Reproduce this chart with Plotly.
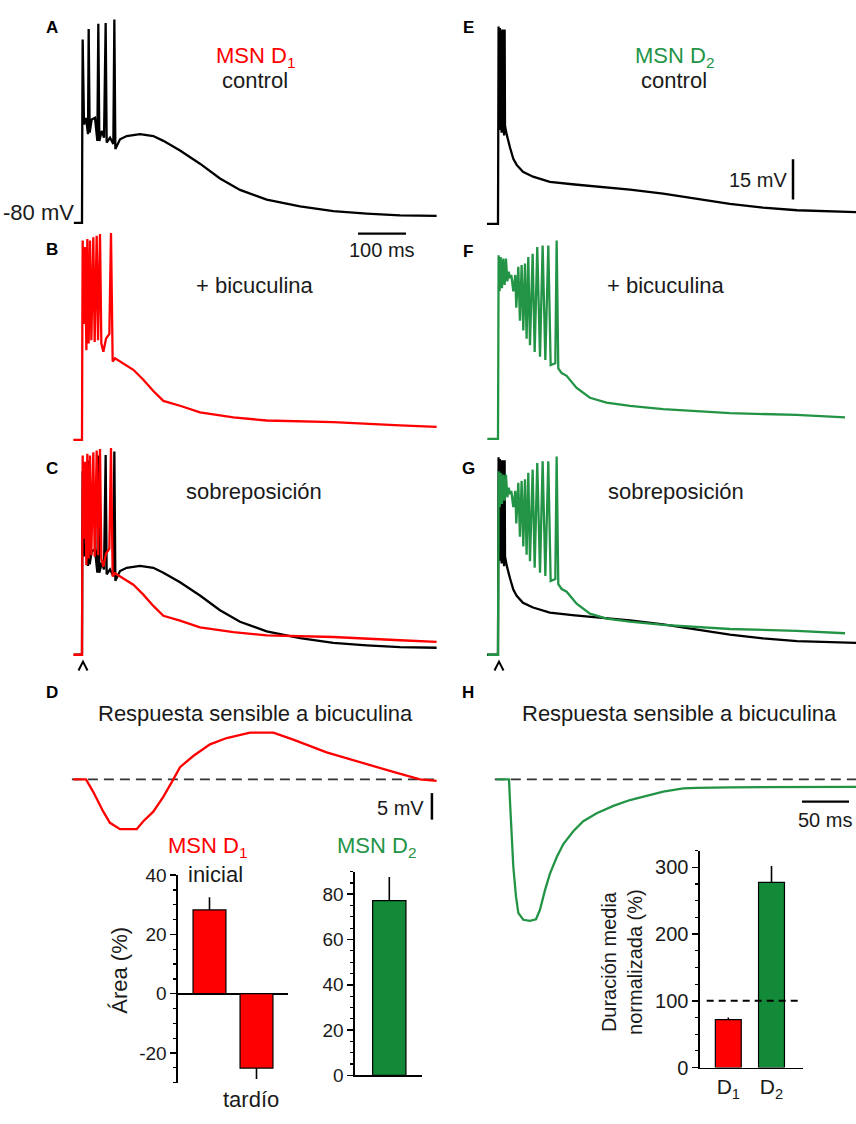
import plotly.graph_objects as go

W, H = 856, 1124
FONT = "Arial, Liberation Sans, Helvetica, sans-serif"
TXT = "#1a1a1a"
RED = "#ff0000"
GREEN = "#239446"
GREEN_BAR = "#138a37"

# ---------------- data (time in ms, membrane potential in mV) ----------------
# MSN D1, control (panel A; black trace of panel C)
d1_ctrl_t = [-17, 0, 0.7, 1.4, 4.2, 8.4, 12.5, 13.9, 16, 20.2, 27.1, 32, 34, 36.1, 41, 45.9, 49.3,
             51.4, 58.4, 65.3, 67.4, 69.5, 79.2, 93.1, 120.9, 148.6, 169.5, 204.2, 245.8, 287.5,
             329.2, 384.8, 454.2, 523.6, 593, 662.5, 738.8]
d1_ctrl_v = [-80, -80, -37.2, -11.6, -43.3, -40.8, -46.9, -7.7, -46.3, -41.4, -40.8, -49.4, -5.7,
             -49.4, -45.7, -48.2, -5.5, -50, -48.2, -50.6, -4.2, -52.4, -48.8, -47.6, -46.9, -47.6,
             -49.4, -53, -57.9, -63.4, -67.7, -71.3, -73.8, -75.6, -76.5, -77.2, -77.4]

# MSN D1, + bicuculline (panel B; red trace of panel C)
d1_bic_t = [-18, 0, 0.7, 1.4, 3.5, 6.3, 9.1, 11.1, 13.9, 16.7, 19.5, 23.6, 26.4, 30.6, 33.4, 37.5,
            40.3, 44.5, 50, 57, 60.4, 63.9, 68.8, 79.2, 93.1, 107, 127.8, 148.6, 169.5, 204.2,
            245.8, 315.3, 384.8, 523.6, 662.5, 738.8]
d1_bic_v = [-80, -80, -36.8, -5.7, -36.8, -8.1, -46.6, -5.1, -44.1, -5.7, -42.9, -4.5, -43.5, -3.9,
            -42.9, -3.3, -44.1, -47.2, -42.3, -40.5, -2.9, -50.8, -49.6, -50.8, -52.1, -53.9, -57.6,
            -61.8, -65.5, -67.3, -69.8, -71.6, -72.8, -73.4, -74.6, -75.2]

# MSN D1, bicuculline-sensitive response (panel D)
d1_diff_t = [-13.5, 0, 7.8, 18.4, 25.5, 36.2, 53.9, 61, 71.6, 82.2, 92.9, 100, 114.1, 131.9, 149.7,
             174.5, 199.3, 220.5, 256, 291.5, 326.9, 355.3, 373]
d1_diff_v = [0, 0, -2.4, -6.1, -8.2, -9.4, -9.4, -7.9, -6.1, -3.3, 0, 2.3, 4.4, 6.6, 7.8, 8.8, 8.8,
             7.5, 5.1, 3.2, 1.4, 0, -0.3]

# MSN D2, control (panel E; black trace of panel G)
d2_ctrl_t = [-23, 0, 0.5, 1.2, 2.5, 3.8, 5.0, 6.2, 7.5, 8.8, 10.0, 11.4, 12.6, 13.8, 14.6, 18.1, 25,
             31.9, 38.9, 52, 73, 108, 160, 212, 275, 344, 415, 483, 552, 623, 746]
d2_ctrl_v = [-80, -80, -50, -6.4, -44, -7, -45, -8, -46, -7.5, -46, -7.5, -47, -7.5, -43.4, -46.7,
             -51.5, -55.7, -58, -60.6, -62.4, -64.3, -65.3, -66.1, -67.2, -68.7, -70.6, -72.5,
             -73.9, -74.9, -75.6]

# MSN D2, + bicuculline (panel F; green trace of panel G)
d2_bic_t = [-22.3, 0, 0.6, 1.3, 3.4, 5.5, 8.3, 11, 13.8, 16.6, 19.4, 22.2, 25, 27.7, 31.9, 36, 38.1,
            42.3, 45.7, 49.2, 52.7, 56.2, 59.6, 63.1, 66.6, 72.2, 76.4, 81.8, 87.5, 93, 98.6, 104.8,
            109.7, 119.4, 122.2, 125.6, 132.6, 143, 163.8, 191.6, 226.1, 275, 344, 483, 622, 723]
d2_bic_v = [-80, -80, -49.4, -11.6, -25, -12.2, -23.8, -12.8, -22.6, -12.8, -21.3, -17.7, -20.1,
            -18.9, -25, -18.9, -31.1, -15.9, -36, -15.2, -39.6, -14.6, -42.7, -12.2, -45.1, -11,
            -47.6, -8.5, -49.4, -7.9, -50.6, -7.9, -52.5, -51.8, -6.1, -53.7, -55.5, -56.5, -61,
            -64.7, -66.5, -67.7, -68.9, -70.4, -71.1, -72]

# MSN D2, bicuculline-sensitive response (panel H)
d2_diff_t = [-13.1, 0, 1.1, 2.9, 4.6, 7.4, 9.9, 15.2, 22.3, 28.7, 33, 38.3, 43.6, 50.7, 57.8, 68.4,
             79, 93.3, 111, 128.7, 146.5, 164.1, 185.4, 199.7, 235, 270.5, 306, 369.9]
d2_diff_v = [0, 0, -4.3, -10.4, -16.5, -22.1, -25.2, -26.5, -26.7, -26.4, -24.6, -20.9, -17.8,
             -14.7, -12.2, -9.8, -7.9, -6.4, -5.0, -3.9, -3.1, -2.3, -1.7, -1.6, -1.5, -1.5, -1.5,
             -1.4]

# Bar charts
area_d1_labels = ["inicial", "tardío"]
area_d1_values = [28.3, -25.1]
area_d1_err_up = [4.3, 0]
area_d1_err_down = [0, 3.7]

area_d2_labels = ["D2"]
area_d2_values = [77.2]
area_d2_err = [10.4]

dur_labels = ["D<sub>1</sub>", "D<sub>2</sub>"]
dur_values = [71.7, 277.5]
dur_err = [3.3, 24.5]
dur_reference = 100

area_d1_ticks = [-20, 0, 20, 40]
area_d2_ticks = [0, 20, 40, 60, 80]
dur_ticks = [0, 100, 200, 300]

# scale bars
SB_TIME_LONG = 100   # ms
SB_V_LARGE = 15      # mV
SB_V_SMALL = 5       # mV
SB_TIME_SHORT = 50   # ms

# ---------------- figure ----------------
fig = go.Figure()
layout = {}


def sfx(i):
    return "" if i == 1 else str(i)


def trace_axes(i, box, anchor_px, anchor_val, ppx, ppy):
    x0, x1, y0, y1 = box
    axp, ayp = anchor_px
    tv, vv = anchor_val
    xr = [tv + (x0 - axp) / ppx, tv + (x1 - axp) / ppx]
    yr = [vv - (y1 - ayp) / ppy, vv + (ayp - y0) / ppy]
    s = sfx(i)
    layout["xaxis" + s] = dict(domain=[x0 / W, x1 / W], range=xr, visible=False,
                               anchor="y" + s, fixedrange=True)
    layout["yaxis" + s] = dict(domain=[1 - y1 / H, 1 - y0 / H], range=yr, visible=False,
                               anchor="x" + s, fixedrange=True)


def line(i, x, y, color, width=2.0, dash=None):
    s = sfx(i)
    fig.add_trace(go.Scatter(x=x, y=y, mode="lines",
                             line=dict(color=color, width=width, dash=dash, shape="linear"),
                             xaxis="x" + s, yaxis="y" + s, hoverinfo="skip", showlegend=False))


PPMS = 0.48          # px per ms (A-C, E-G)
PPMV = 41 / 15       # px per mV (A-C, E-G)
PPMS2 = 0.94         # px per ms (D, H)
PPMV2 = 5.4          # px per mV (D, H)

trace_axes(1, (60, 440, 0, 235), (82, 217), (0, -80), PPMS, PPMV)      # A
trace_axes(2, (60, 440, 225, 455), (82, 438), (0, -80), PPMS, PPMV)    # B
trace_axes(3, (60, 440, 440, 685), (82, 657), (0, -80), PPMS, PPMV)    # C
trace_axes(4, (60, 440, 725, 850), (86, 784), (0, 0), PPMS2, PPMV2)    # D
trace_axes(5, (470, 856, 0, 235), (498, 218), (0, -80), PPMS, PPMV)    # E
trace_axes(6, (470, 856, 225, 455), (498, 437), (0, -80), PPMS, PPMV)  # F
trace_axes(7, (470, 856, 440, 685), (498, 657), (0, -80), PPMS, PPMV)  # G
trace_axes(8, (470, 856, 725, 950), (509, 784), (0, 0), PPMS2, PPMV2)  # H

LW = 2.3
line(1, d1_ctrl_t, d1_ctrl_v, "black", LW)
line(2, d1_bic_t, d1_bic_v, RED, LW)
line(3, d1_ctrl_t, d1_ctrl_v, "black", LW)
line(3, d1_bic_t, d1_bic_v, RED, LW)
line(5, d2_ctrl_t, d2_ctrl_v, "black", LW)
line(6, d2_bic_t, d2_bic_v, GREEN, LW)
line(7, d2_ctrl_t, d2_ctrl_v, "black", LW)
line(7, d2_bic_t, d2_bic_v, GREEN, LW)

# dashed zero lines for D and H
line(4, [d1_diff_t[0] - 1.5, d1_diff_t[-1] + 1.5], [0, 0], "#333333", 1.6, "10px,6px")
line(8, [d2_diff_t[0] - 2, 380], [0, 0], "#333333", 1.6, "10px,6px")
line(4, d1_diff_t, d1_diff_v, RED, LW)
line(8, d2_diff_t, d2_diff_v, GREEN, LW)

# scale bars
sb_a_t0, sb_a_v = 575, -84.0
line(1, [sb_a_t0, sb_a_t0 + SB_TIME_LONG], [sb_a_v, sb_a_v], "black", 2.2)
sb_e_t, sb_e_v0 = 614.6, -70.85
line(5, [sb_e_t, sb_e_t], [sb_e_v0, sb_e_v0 + SB_V_LARGE], "black", 2.5)
sb_d_t, sb_d_v0 = 368, -7.6
line(4, [sb_d_t, sb_d_t], [sb_d_v0, sb_d_v0 + SB_V_SMALL], "black", 2.5)
sb_h_t0, sb_h_v = 311.7, -4.2
line(8, [sb_h_t0, sb_h_t0 + SB_TIME_SHORT], [sb_h_v, sb_h_v], "black", 2.2)

# ---------------- bar charts ----------------
AX_COLOR = "black"


def bar_axes(i, box, xr, yr, ticks, minor, show_xline, tickfont=19, ticktext=None, tickvals=None):
    x0, x1, y0, y1 = box
    s = sfx(i)
    xa = dict(domain=[x0 / W, x1 / W], range=xr, anchor="y" + s, showgrid=False,
              zeroline=False, showline=show_xline, linecolor=AX_COLOR, linewidth=1.6,
              ticks="", fixedrange=True)
    if ticktext is not None:
        xa.update(tickvals=tickvals, ticktext=ticktext, showticklabels=True,
                  tickfont=dict(family=FONT, size=21, color=TXT))
    else:
        xa.update(showticklabels=False)
    layout["xaxis" + s] = xa
    layout["yaxis" + s] = dict(domain=[1 - y1 / H, 1 - y0 / H], range=yr, anchor="x" + s,
                               showgrid=False, zeroline=(yr[0] < 0), zerolinecolor=AX_COLOR,
                               zerolinewidth=1.6, showline=True, linecolor=AX_COLOR,
                               linewidth=1.6, ticks="outside", ticklen=6, tickwidth=1.5,
                               tickcolor=AX_COLOR, tickvals=ticks,
                               ticktext=[str(v) for v in ticks],
                               tickfont=dict(family=FONT, size=tickfont, color=TXT),
                               minor=dict(dtick=minor, ticks="outside", ticklen=3.5,
                                          tickwidth=1.2, tickcolor=AX_COLOR, showgrid=False),
                               fixedrange=True)


# Área D1
pos1 = list(range(len(area_d1_labels)))
bar_axes(9, (178, 288, 881.7, 1093), [-0.670, 1.670], [-30, 40], area_d1_ticks, 5, False)
fig.add_trace(go.Bar(x=pos1, y=area_d1_values, width=0.70,
                     marker=dict(color=RED, line=dict(color="black", width=1.2)),
                     error_y=dict(type="data", symmetric=False, array=area_d1_err_up,
                                  arrayminus=area_d1_err_down, color="black", thickness=1.6,
                                  width=0),
                     xaxis="x9", yaxis="y9", hoverinfo="skip", showlegend=False))

# Área D2
pos2 = list(range(len(area_d2_labels)))
bar_axes(10, (355, 421.7, 878, 1085.7), [-1.03, 0.973], [0, 90], area_d2_ticks, 5, True)
fig.add_trace(go.Bar(x=pos2, y=area_d2_values, width=1.0,
                     marker=dict(color=GREEN_BAR, line=dict(color="black", width=1.2)),
                     error_y=dict(type="data", symmetric=False, array=area_d2_err,
                                  arrayminus=[0] * len(area_d2_err), color="black",
                                  thickness=1.6, width=0),
                     xaxis="x10", yaxis="y10", hoverinfo="skip", showlegend=False))

# Duración media normalizada
pos3 = list(range(len(dur_labels)))
bar_axes(11, (700, 802.7, 856.7, 1077.7), [-0.655, 1.722], [0, 325], dur_ticks, 25, True,
         tickfont=20, ticktext=dur_labels, tickvals=pos3)
fig.add_trace(go.Bar(x=pos3, y=dur_values, width=0.60,
                     marker=dict(color=[RED, GREEN_BAR], line=dict(color="black", width=1.2)),
                     error_y=dict(type="data", symmetric=False, array=dur_err,
                                  arrayminus=[0] * len(dur_err), color="black",
                                  thickness=1.6, width=0),
                     xaxis="x11", yaxis="y11", hoverinfo="skip", showlegend=False))
fig.add_trace(go.Scatter(x=[-0.5, 1.62], y=[dur_reference, dur_reference], mode="lines",
                         line=dict(color="black", width=2, dash="7px,5px"),
                         xaxis="x11", yaxis="y11", hoverinfo="skip", showlegend=False))

# ---------------- text ----------------
annots = []


def text(t, x, y, size=22, color=TXT, bold=False, xanchor="center", angle=0):
    if bold:
        t = "<b>" + t + "</b>"
    annots.append(dict(x=x / W, y=1 - y / H, xref="paper", yref="paper", text=t,
                       showarrow=False, xanchor=xanchor, yanchor="middle", textangle=angle,
                       font=dict(family=FONT, size=size, color=color)))


for lab, (x, y) in {"A": (52, 18), "B": (52, 244), "C": (52, 467), "D": (52, 695),
                    "E": (468, 18), "F": (468, 246), "G": (469, 467), "H": (468, 695)}.items():
    text(lab, x, y, size=17, color="black", bold=True)

text("MSN D<sub>1</sub>", 255, 48, color=RED)
text("control", 255, 72)
text("MSN D<sub>2</sub>", 674, 48, color=GREEN)
text("control", 674, 72)
text("+ bicuculina", 255, 281)
text("+ bicuculina", 666, 281)
text("sobreposición", 254, 491)
text("sobreposición", 676, 491)
text("Respuesta sensible a bicuculina", 255, 717)
text("Respuesta sensible a bicuculina", 679, 717)
text("-80 mV", 76, 206, xanchor="right")
text("100 ms", 382, 245, size=20)
text("15 mV", 789, 173, size=20, xanchor="right")
text("5 mV", 426, 813, size=20, xanchor="right")
text("50 ms", 825, 825, size=20)

text("MSN D<sub>1</sub>", 207, 853, color=RED)
text("inicial", 216, 881)
text("tardío", 251, 1110)
text("Área (%)", 120, 978, angle=-90)
text("MSN D<sub>2</sub>", 376, 853, color=GREEN)
text("Duración media<br>normalizada (%)", 622, 970, size=20, angle=-90)

# arrowheads under C and G
shapes = []
for ax in (83, 499):
    pts = [(ax - 4.5, 673), (ax, 664), (ax + 4.5, 673)]
    path = "M " + " L ".join(f"{px / W},{1 - py / H}" for px, py in pts)
    shapes.append(dict(type="path", path=path, xref="paper", yref="paper",
                       line=dict(color="black", width=2)))

fig.update_layout(width=W, height=H, margin=dict(l=0, r=0, t=0, b=0),
                  paper_bgcolor="white", plot_bgcolor="rgba(0,0,0,0)",
                  annotations=annots, shapes=shapes, showlegend=False,
                  bargap=0, font=dict(family=FONT, color=TXT), **layout)

fig.write_html("out.html", config={"displayModeBar": False, "staticPlot": True},
               post_script="document.body.style.margin='0';document.body.style.overflow='hidden';")
